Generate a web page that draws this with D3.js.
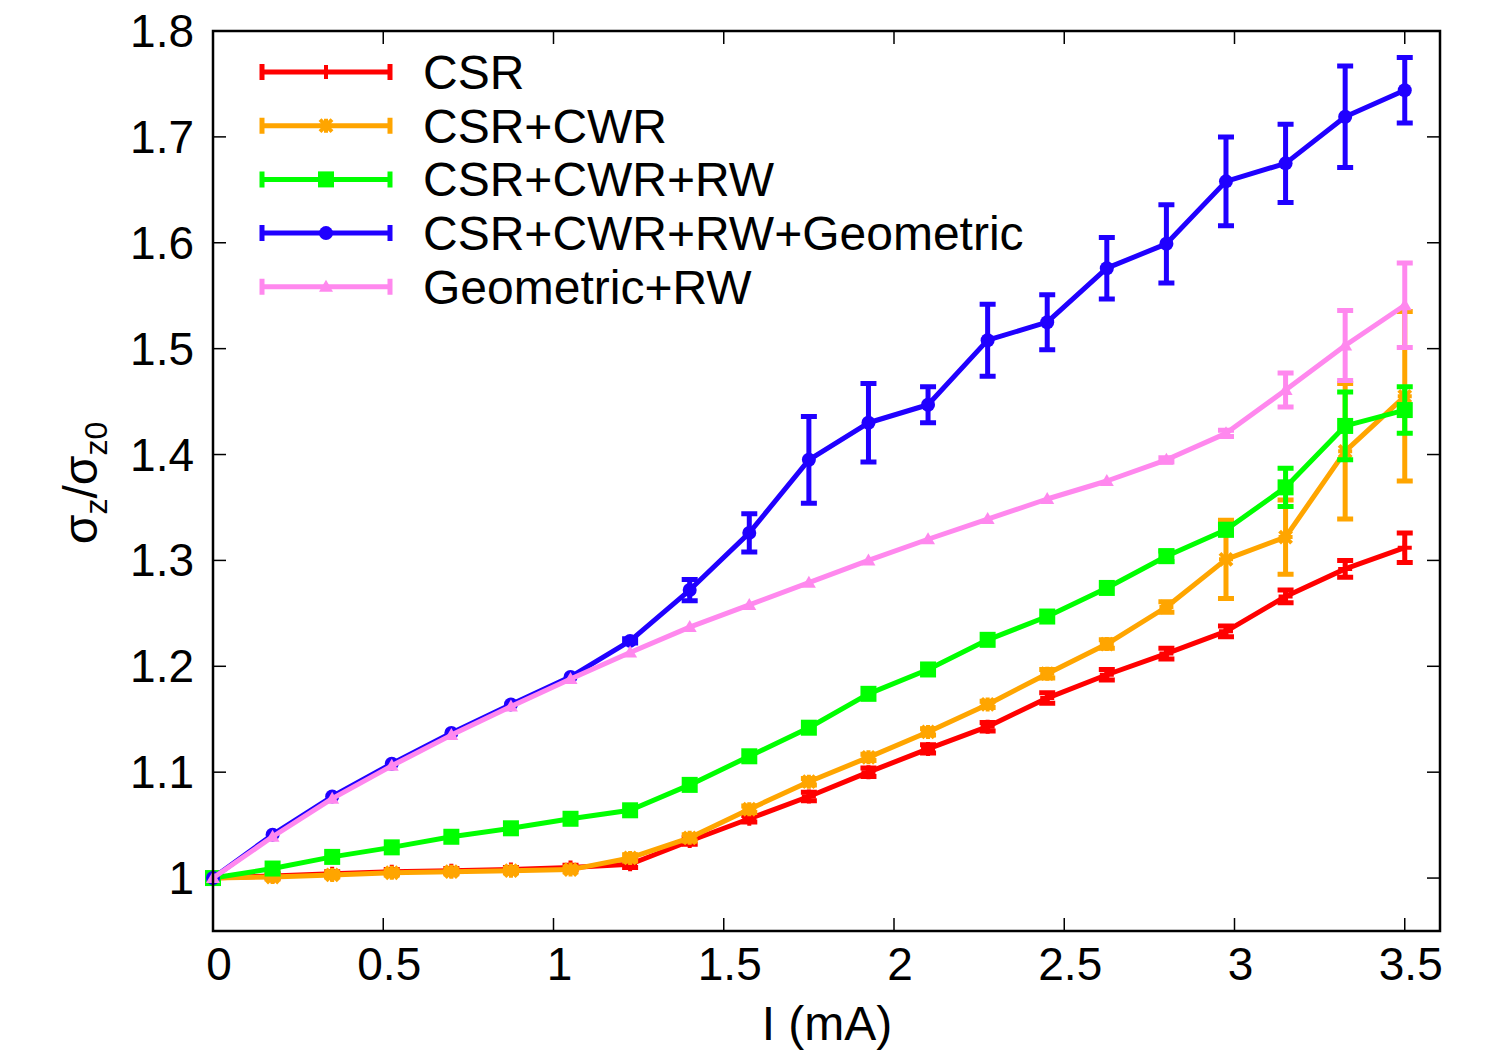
<!DOCTYPE html>
<html>
<head>
<meta charset="utf-8">
<script src="https://cdn.jsdelivr.net/npm/d3@7"></script>
<style>
  body { margin: 0; background: #fff; }
  svg { display: block; font-family: "Liberation Sans", Arial, sans-serif; }
</style>
</head>
<body>
<svg id="chart" width="1496" height="1054"></svg>
<script>
// --- data ---
const currents = [0, 0.175, 0.35, 0.525, 0.7, 0.875, 1.05, 1.225, 1.4, 1.575, 1.75,
  1.925, 2.1, 2.275, 2.45, 2.625, 2.8, 2.975, 3.15, 3.325, 3.5];

const csr = [1.0, 1.002, 1.004, 1.006, 1.007, 1.008, 1.010, 1.013, 1.035, 1.056, 1.077,
  1.100, 1.122, 1.143, 1.170, 1.192, 1.212, 1.233, 1.266, 1.292, 1.312];
const csrErr = [0, 0.002, 0.002, 0.002, 0.002, 0.002, 0.002, 0.003, 0.003, 0.003, 0.004,
  0.004, 0.004, 0.004, 0.005, 0.005, 0.005, 0.005, 0.006, 0.008, 0.014];

const csrCwr = [1.0, 1.001, 1.003, 1.005, 1.006, 1.007, 1.008, 1.019, 1.038, 1.065, 1.091,
  1.114, 1.138, 1.164, 1.193, 1.221, 1.256, 1.301, 1.322, 1.403, 1.455];
const csrCwrErr = [0, 0.002, 0.002, 0.002, 0.002, 0.002, 0.002, 0.003, 0.003, 0.003, 0.003,
  0.003, 0.003, 0.003, 0.004, 0.004, 0.005, 0.037, 0.035, 0.064, 0.08];

const csrCwrRw = [1.0, 1.009, 1.020, 1.029, 1.039, 1.047, 1.056, 1.064, 1.088, 1.115, 1.142,
  1.174, 1.197, 1.225, 1.247, 1.274, 1.304, 1.329, 1.369, 1.427, 1.442];
const csrCwrRwErr = [0, 0, 0, 0, 0, 0, 0, 0, 0, 0, 0,
  0, 0, 0, 0, 0, 0.005, 0.005, 0.018, 0.032, 0.022];

const allEffects = [1.0, 1.041, 1.077, 1.108, 1.137, 1.164, 1.190, 1.224, 1.272, 1.326, 1.395,
  1.430, 1.447, 1.508, 1.525, 1.576, 1.599, 1.658, 1.675, 1.719, 1.744];
const allEffectsErr = [0, 0, 0, 0, 0, 0, 0, 0.002, 0.010, 0.018, 0.041,
  0.037, 0.017, 0.034, 0.026, 0.029, 0.037, 0.042, 0.037, 0.048, 0.031];

const geomRw = [1.0, 1.039, 1.075, 1.106, 1.135, 1.162, 1.188, 1.213, 1.237, 1.258, 1.279,
  1.300, 1.320, 1.339, 1.358, 1.375, 1.395, 1.420, 1.461, 1.503, 1.541];
const geomRwErr = [0, 0, 0, 0, 0, 0, 0, 0, 0, 0, 0,
  0, 0, 0, 0, 0, 0.002, 0.003, 0.016, 0.033, 0.04];

const seriesNames = ["CSR", "CSR+CWR", "CSR+CWR+RW", "CSR+CWR+RW+Geometric", "Geometric+RW"];
const xTicks = [0, 0.5, 1, 1.5, 2, 2.5, 3, 3.5];
const yTicks = [1, 1.1, 1.2, 1.3, 1.4, 1.5, 1.6, 1.7, 1.8];

// --- layout ---
const svg = d3.select("#chart");
const plotLeft = 213, plotRight = 1440, plotTop = 31, plotBottom = 931;

const x = d3.scaleLinear().domain([0, 3.6]).range([plotLeft, plotLeft + 340.5 * 3.6]);
const y = d3.scaleLinear().domain([0.95, 1.8]).range([plotBottom, plotTop]);

const series = [
  { name: seriesNames[0], vals: csr, err: csrErr, color: "#ff0000", marker: "plus" },
  { name: seriesNames[1], vals: csrCwr, err: csrCwrErr, color: "#ffa500", marker: "star" },
  { name: seriesNames[2], vals: csrCwrRw, err: csrCwrRwErr, color: "#00ff00", marker: "square" },
  { name: seriesNames[3], vals: allEffects, err: allEffectsErr, color: "#2000ff", marker: "circle" },
  { name: seriesNames[4], vals: geomRw, err: geomRwErr, color: "#ff88ee", marker: "triangle" },
];

const tickFont = 46;
const textFont = 48;
const lw = 5;

// ticks (inside, mirrored)
const tickLen = 13;
const ticks = svg.append("g").attr("stroke", "#000").attr("stroke-width", 1.5);
xTicks.forEach((t) => {
  ticks.append("line").attr("x1", x(t)).attr("x2", x(t)).attr("y1", plotBottom).attr("y2", plotBottom - tickLen);
  ticks.append("line").attr("x1", x(t)).attr("x2", x(t)).attr("y1", plotTop).attr("y2", plotTop + tickLen);
});
yTicks.forEach((t) => {
  ticks.append("line").attr("x1", plotLeft).attr("x2", plotLeft + tickLen).attr("y1", y(t)).attr("y2", y(t));
  ticks.append("line").attr("x1", plotRight).attr("x2", plotRight - tickLen).attr("y1", y(t)).attr("y2", y(t));
});

// tick labels
svg.append("g")
  .selectAll("text")
  .data(xTicks)
  .join("text")
  .attr("x", (d) => x(d) + 6)
  .attr("y", 980)
  .attr("text-anchor", "middle")
  .attr("font-size", tickFont)
  .text((d) => d);

svg.append("g")
  .selectAll("text")
  .data(yTicks)
  .join("text")
  .attr("x", 194)
  .attr("y", (d) => y(d) + 16)
  .attr("text-anchor", "end")
  .attr("font-size", tickFont)
  .text((d) => d);

// axis titles
svg.append("text")
  .attr("x", 827)
  .attr("y", 1040)
  .attr("text-anchor", "middle")
  .attr("font-size", textFont)
  .text("I (mA)");

const yl = svg.append("text")
  .attr("transform", "translate(97,483) rotate(-90)")
  .attr("text-anchor", "middle")
  .attr("font-size", textFont);
yl.append("tspan").text("σ");
yl.append("tspan").attr("font-size", 32).attr("dy", 10).text("z");
yl.append("tspan").attr("dy", -10).text("/σ");
yl.append("tspan").attr("font-size", 32).attr("dy", 10).text("z0");

// markers
function drawMarker(g, type, cx, cy, color) {
  if (type === "plus") {
    g.append("path").attr("d", `M${cx - 7},${cy}H${cx + 7}M${cx},${cy - 7}V${cy + 7}`)
      .attr("stroke", color).attr("stroke-width", 4).attr("fill", "none");
  } else if (type === "star") {
    g.append("path")
      .attr("d", `M${cx - 7},${cy}H${cx + 7}M${cx},${cy - 7}V${cy + 7}M${cx - 6},${cy - 6}L${cx + 6},${cy + 6}M${cx - 6},${cy + 6}L${cx + 6},${cy - 6}`)
      .attr("stroke", color).attr("stroke-width", 4).attr("fill", "none");
  } else if (type === "square") {
    g.append("rect").attr("x", cx - 8).attr("y", cy - 8).attr("width", 16).attr("height", 16).attr("fill", color);
  } else if (type === "circle") {
    g.append("circle").attr("cx", cx).attr("cy", cy).attr("r", 7).attr("fill", color);
  } else if (type === "triangle") {
    g.append("path").attr("d", `M${cx},${cy - 7}L${cx + 7},${cy + 5}L${cx - 7},${cy + 5}Z`).attr("fill", color);
  }
}

const line = d3.line().x((d) => x(d[0])).y((d) => y(d[1]));
const capW = 8;

series.forEach((s) => {
  const g = svg.append("g");
  const pts = currents.map((c, i) => [c, s.vals[i], s.err[i]]);
  g.append("path")
    .datum(pts)
    .attr("d", line)
    .attr("fill", "none")
    .attr("stroke", s.color)
    .attr("stroke-width", lw)
    .attr("stroke-linejoin", "round");
  pts.forEach((p) => {
    const px = x(p[0]);
    if (p[2] > 0) {
      const y1 = y(p[1] - p[2]), y2 = y(p[1] + p[2]);
      g.append("path")
        .attr("d", `M${px},${y1}V${y2}M${px - capW},${y1}H${px + capW}M${px - capW},${y2}H${px + capW}`)
        .attr("stroke", s.color).attr("stroke-width", lw).attr("fill", "none");
    }
    drawMarker(g, s.marker, px, y(p[1]), s.color);
  });
});

// legend
const legend = svg.append("g");
series.forEach((s, i) => {
  const ly = 72 + i * 53.7;
  const g = legend.append("g");
  g.append("path")
    .attr("d", `M260,${ly}H392M262,${ly - 8}V${ly + 8}M390,${ly - 8}V${ly + 8}`)
    .attr("stroke", s.color).attr("stroke-width", lw).attr("fill", "none");
  drawMarker(g, s.marker, 326, ly, s.color);
  g.append("text")
    .attr("x", 423)
    .attr("y", ly + 17)
    .attr("font-size", textFont)
    .text(s.name);
});

// border
svg.append("rect")
  .attr("x", plotLeft).attr("y", plotTop)
  .attr("width", plotRight - plotLeft).attr("height", plotBottom - plotTop)
  .attr("fill", "none").attr("stroke", "#000").attr("stroke-width", 2.5);
</script>
</body>
</html>
